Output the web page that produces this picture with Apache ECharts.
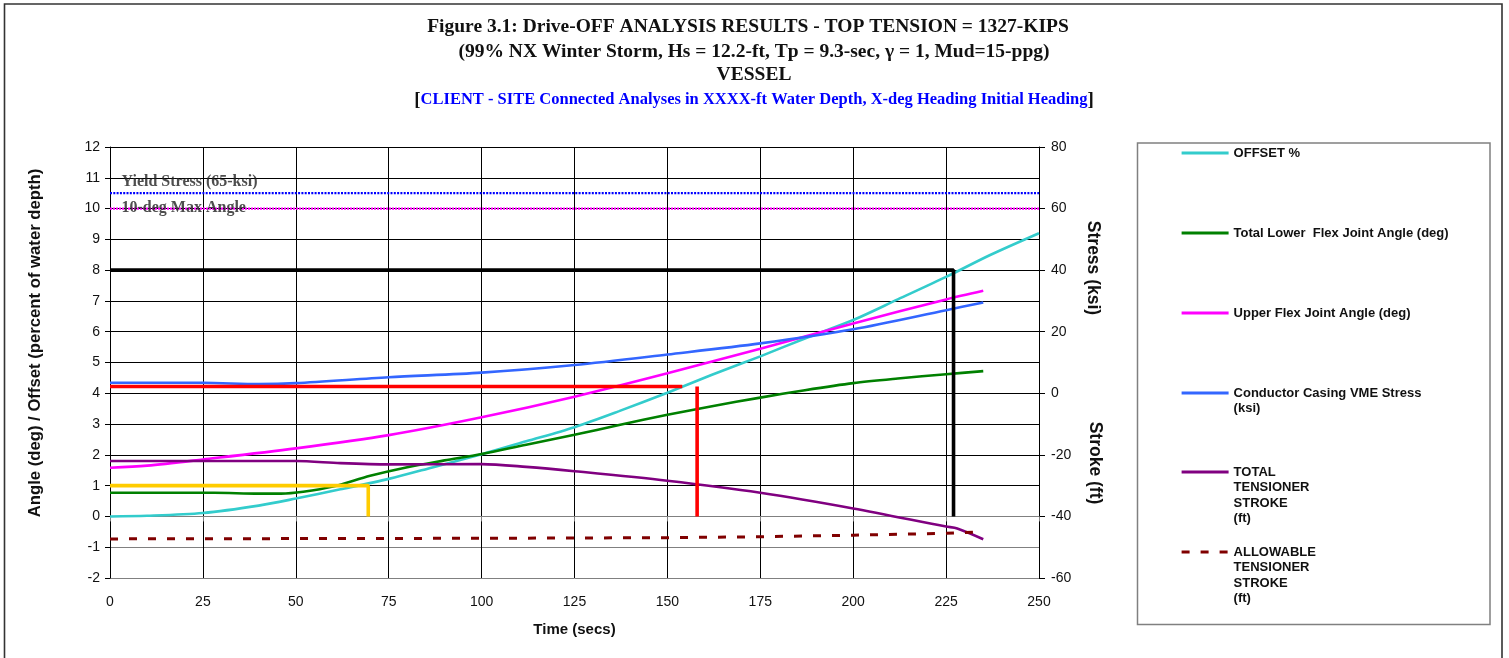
<!DOCTYPE html>
<html>
<head>
<meta charset="utf-8">
<script src="https://cdn.jsdelivr.net/npm/echarts@6/dist/echarts.min.js"></script>
<style>
  html, body { margin: 0; padding: 0; background: #fff; }
  #chart { width: 1509px; height: 658px; }
</style>
</head>
<body>
<div id="chart"></div>
<script>
// Time axis ticks (secs)
const timeTicks = [0, 25, 50, 75, 100, 125, 150, 175, 200, 225, 250];

// OFFSET % (left axis)
const offsetTime = [0, 10, 25, 40, 50, 62, 75, 87, 100, 112, 125, 137, 150, 162, 175, 187, 200, 212, 225, 237, 250];
const offsetPct  = [0, 0.02, 0.11, 0.35, 0.58, 0.88, 1.22, 1.6, 2.02, 2.44, 2.9, 3.42, 4.02, 4.6, 5.2, 5.78, 6.38, 7.05, 7.78, 8.5, 9.2];

// Total lower flex joint angle (deg, left axis)
const lowerFlexTime = [0, 28, 40, 46, 52, 60, 70, 80, 90, 100, 112, 125, 137, 150, 162, 175, 187, 200, 212, 225, 235];
const lowerFlexDeg  = [0.77, 0.77, 0.74, 0.74, 0.8, 0.97, 1.32, 1.6, 1.82, 2.03, 2.33, 2.65, 2.97, 3.3, 3.58, 3.86, 4.1, 4.33, 4.48, 4.62, 4.72];

// Upper flex joint angle (deg, left axis)
const upperFlexTime = [0, 10, 25, 50, 75, 100, 125, 150, 175, 200, 225, 235];
const upperFlexDeg  = [1.58, 1.65, 1.85, 2.21, 2.64, 3.22, 3.89, 4.65, 5.45, 6.27, 7.05, 7.33];

// Conductor casing VME stress (ksi, right axis)
const vmeTime      = [0, 25, 40, 50, 75, 100, 125, 150, 175, 200, 225, 235];
const vmeStressKsi = [3.4, 3.4, 3.0, 3.3, 5.2, 6.7, 9.2, 12.6, 16.2, 20.8, 27.0, 29.5];

// Total tensioner stroke (ft, right axis)
const strokeTime = [0, 25, 50, 62, 75, 100, 112, 125, 150, 175, 200, 225, 228, 235];
const strokeFt   = [-22, -22, -22, -22.7, -23.1, -23.0, -23.9, -25.3, -28.4, -32.3, -37.4, -43.3, -43.9, -47.4];

// Allowable tensioner stroke (ft, right axis)
const allowTime = [0, 50, 100, 150, 175, 200, 225, 235];
const allowFt   = [-47.3, -47.2, -47.1, -46.9, -46.6, -46.1, -45.5, -45.0];

// Design limits
const yieldStressKsi = 65;
const maxAngleDeg = 10;
const blackLimitTime = [0, 227, 227];
const blackLimitVal  = [8, 8, 0];
const redLimitTimeH  = [0, 154];
const redLimitValH   = [4.22, 4.22];
const redLimitTimeV  = [158, 158];
const redLimitValV   = [4.22, 0];
const yellowLimitTime = [0, 69.5, 69.5];
const yellowLimitVal  = [1.0, 1.0, 0];

const pairs = (xs, ys) => xs.map((x, i) => [x, ys[i]]);

const chart = echarts.init(document.getElementById('chart'));

const sans = 'Liberation Sans, Arial, sans-serif';
const serif = 'Liberation Serif, Times New Roman, serif';

function lineSeries(name, data, color, yAxisIndex, extra) {
  return Object.assign({
    name: name,
    type: 'line',
    yAxisIndex: yAxisIndex,
    data: data,
    symbol: 'none',
    smooth: 0.3,
    lineStyle: { color: color, width: 2.6 },
    itemStyle: { color: color },
    animation: false,
    z: 3
  }, extra || {});
}

function limitSeries(data, color, yAxisIndex) {
  return {
    type: 'line', yAxisIndex: yAxisIndex, data: data, symbol: 'none',
    lineStyle: { color: color, width: 3.6 }, animation: false, z: 4,
    legendHoverLink: false, silent: true
  };
}

// Legend entries: one legend block per series, stacked at fixed spacing;
// multi-line names hang below the line sample.
const legendNames = [
  'OFFSET %',
  'Total Lower  Flex Joint Angle (deg)',
  'Upper Flex Joint Angle (deg)',
  'Conductor Casing VME Stress\n(ksi)',
  'TOTAL\nTENSIONER\nSTROKE\n(ft)',
  'ALLOWABLE\nTENSIONER\nSTROKE\n(ft)'
];
const legendCenters = [153, 233, 313, 393, 472, 552];
const LH = 15.6;
const legends = legendNames.map((nm, i) => {
  const n = nm.split('\n').length;
  return {
    data: [nm],
    orient: 'vertical',
    left: 1180,
    top: legendCenters[i] - (2 * n - 1) * LH / 2,
    padding: 0,
    itemWidth: 47,
    itemHeight: 14,
    selectedMode: false,
    itemStyle: { opacity: 0 },
    lineStyle: { width: 3.2 },
    formatter: name => '\n'.repeat(n - 1) + name,
    textStyle: {
      fontFamily: sans, fontSize: 13, fontWeight: 'bold', color: '#111',
      lineHeight: LH
    }
  };
});

const gridH = ['#808080', '#808080', '#808080'].concat(new Array(12).fill('#000'));

const option = {
  backgroundColor: '#fff',
  animation: false,
  grid: { left: 110, right: 470, top: 147, bottom: 80, containLabel: false },
  legend: legends,
  xAxis: {
    type: 'value', min: 0, max: 250, interval: 25,
    name: 'Time (secs)', nameLocation: 'middle', nameGap: 44,
    nameTextStyle: { fontFamily: sans, fontSize: 15, fontWeight: 'bold', color: '#111' },
    axisLine: { lineStyle: { color: '#808080', width: 1 } },
    axisTick: { show: true, length: 5, lineStyle: { color: '#808080' } },
    axisLabel: { fontFamily: sans, fontSize: 14, color: '#111', margin: 17,
      formatter: v => timeTicks.includes(v) ? String(v) : '' },
    splitLine: { show: true, lineStyle: { color: '#000', width: 1 } }
  },
  yAxis: [
    {
      type: 'value', min: -2, max: 12, interval: 1, position: 'left',
      axisLine: { show: true, lineStyle: { color: '#000', width: 1 } },
      axisTick: { show: true, length: 5, lineStyle: { color: '#000' } },
      axisLabel: { fontFamily: sans, fontSize: 14, color: '#111', margin: 10 },
      splitLine: { show: true, lineStyle: { color: gridH, width: 1 } }
    },
    {
      type: 'value', min: -60, max: 80, interval: 20, position: 'right',
      axisLine: { show: true, lineStyle: { color: '#000', width: 1 } },
      axisTick: { show: true, length: 6, lineStyle: { color: '#000' } },
      axisLabel: { fontFamily: sans, fontSize: 14, color: '#111', margin: 12 },
      splitLine: { show: false }
    }
  ],
  series: [
    lineSeries(legendNames[0], pairs(offsetTime, offsetPct), '#33CCCC', 0),
    lineSeries(legendNames[1], pairs(lowerFlexTime, lowerFlexDeg), '#008000', 0),
    lineSeries(legendNames[2], pairs(upperFlexTime, upperFlexDeg), '#FF00FF', 0),
    lineSeries(legendNames[3], pairs(vmeTime, vmeStressKsi), '#3366FF', 1),
    lineSeries(legendNames[4], pairs(strokeTime, strokeFt), '#800080', 1),
    lineSeries(legendNames[5], pairs(allowTime, allowFt), '#800000', 1,
      { smooth: false, lineStyle: { color: '#800000', width: 3, type: [8, 11] } }),
    // yield stress and max angle limits
    {
      type: 'line', yAxisIndex: 1, symbol: 'none', animation: false, silent: true, z: 2,
      data: [[0, yieldStressKsi], [250, yieldStressKsi]],
      lineStyle: { color: '#0000FF', width: 2.2, type: [2, 1.3] }
    },
    {
      type: 'line', yAxisIndex: 0, symbol: 'none', animation: false, silent: true, z: 2,
      data: [[0, maxAngleDeg], [250, maxAngleDeg]],
      lineStyle: { color: '#FF00FF', width: 2.2, type: [2, 1] }
    },
    {
      type: 'scatter', yAxisIndex: 1, symbolSize: 1, silent: true, animation: false, z: 5,
      itemStyle: { color: 'rgba(0,0,0,0)' },
      data: [[0, yieldStressKsi]],
      label: { show: true, position: 'right', distance: 11, offset: [0, -11],
        formatter: 'Yield Stress (' + yieldStressKsi + '-ksi)',
        fontFamily: serif, fontSize: 16, fontWeight: 'bold', color: '#222' }
    },
    {
      type: 'scatter', yAxisIndex: 0, symbolSize: 1, silent: true, animation: false, z: 5,
      itemStyle: { color: 'rgba(0,0,0,0)' },
      data: [[0, maxAngleDeg]],
      label: { show: true, position: 'right', distance: 11, offset: [0, -1],
        formatter: maxAngleDeg + '-deg Max Angle',
        fontFamily: serif, fontSize: 16, fontWeight: 'bold', color: '#222' }
    },
    limitSeries(pairs(blackLimitTime, blackLimitVal), '#000', 0),
    limitSeries(pairs(redLimitTimeH, redLimitValH), '#FF0000', 0),
    limitSeries(pairs(redLimitTimeV, redLimitValV), '#FF0000', 0),
    limitSeries(pairs(yellowLimitTime, yellowLimitVal), '#FFCC00', 0)
  ],
  graphic: [
    { type: 'rect', shape: { x: 4.5, y: 4, width: 1497.5, height: 700 },
      style: { fill: 'none', stroke: '#333', lineWidth: 1.6 }, silent: true },
    { type: 'rect', shape: { x: 1137.5, y: 143, width: 352.5, height: 481.5 },
      style: { fill: 'none', stroke: '#808080', lineWidth: 1.5 }, silent: true },
    { type: 'text', x: 748, y: 27, style: { text: 'Figure 3.1: Drive-OFF ANALYSIS RESULTS - TOP TENSION = 1327-KIPS',
      font: 'bold 19.5px ' + serif, fill: '#111', align: 'center', verticalAlign: 'middle' } },
    { type: 'text', x: 754, y: 52, style: { text: '(99% NX Winter Storm, Hs = 12.2-ft, Tp = 9.3-sec, γ = 1, Mud=15-ppg)',
      font: 'bold 19.5px ' + serif, fill: '#111', align: 'center', verticalAlign: 'middle' } },
    { type: 'text', x: 754, y: 75, style: { text: 'VESSEL',
      font: 'bold 19.5px ' + serif, fill: '#111', align: 'center', verticalAlign: 'middle' } },
    { type: 'text', x: 754, y: 100, style: {
      text: '{k|[}{b|CLIENT - SITE Connected Analyses in XXXX-ft Water Depth, X-deg Heading Initial Heading}{k|]}',
      align: 'center', verticalAlign: 'middle',
      rich: {
        k: { font: 'bold 19px ' + serif, fill: '#111' },
        b: { font: 'bold 16.5px ' + serif, fill: '#0000FF' }
      } } },
    { type: 'text', x: 35, y: 343, rotation: Math.PI / 2, style: {
      text: 'Angle (deg) / Offset (percent of water depth)',
      font: 'bold 16.7px ' + sans, fill: '#111', align: 'center', verticalAlign: 'middle' } },
    { type: 'text', x: 1093, y: 268, rotation: -Math.PI / 2, style: { text: 'Stress (ksi)',
      font: 'bold 17.5px ' + sans, fill: '#111', align: 'center', verticalAlign: 'middle' } },
    { type: 'text', x: 1095, y: 463, rotation: -Math.PI / 2, style: { text: 'Stroke (ft)',
      font: 'bold 17.5px ' + sans, fill: '#111', align: 'center', verticalAlign: 'middle' } }
  ]
};

chart.setOption(option);
</script>
</body>
</html>
